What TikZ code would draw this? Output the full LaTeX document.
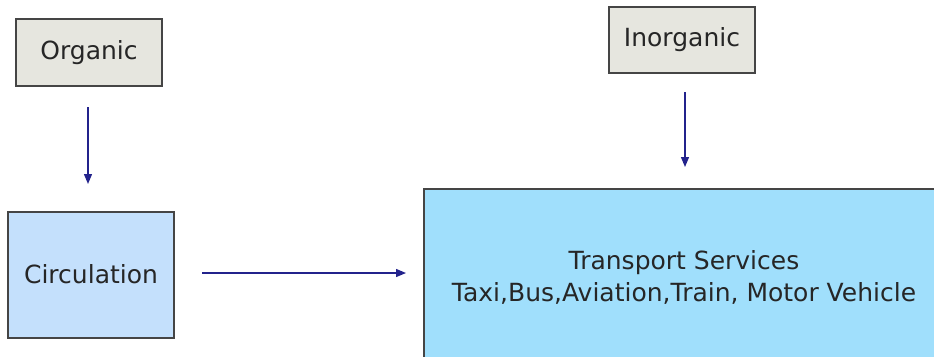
\documentclass[tikz,border=0pt]{standalone}
\usepackage{fontspec}
\setmainfont{DejaVu Sans}
\usetikzlibrary{arrows.meta}
\definecolor{boxgray}{HTML}{E6E6DF}
\definecolor{edgegray}{HTML}{454545}
\definecolor{circblue}{HTML}{C4E0FC}
\definecolor{transblue}{HTML}{A0DFFC}
\definecolor{arrowblue}{HTML}{23238C}
\tikzset{
  srcbox/.style={draw=edgegray, line width=1.6pt, fill=boxgray},
  flowarrow/.style={draw=arrowblue, line width=1.3pt, -{Triangle[length=10pt,width=8pt]}},
  lbl/.style={font=\fontsize{25}{30}\selectfont, text=black!85, align=center}
}
\begin{document}
\begin{tikzpicture}[x=1pt,y=-1pt]
  \useasboundingbox (0,0) rectangle (934,356);
  % boxes
  \draw[srcbox] (16,19) rectangle (162,86);
  \node[lbl] (org) at (89,52.5) {Organic};
  \draw[srcbox] (609,7) rectangle (755,73);
  \node[lbl] (inorg) at (682,40) {Inorganic};
  \draw[draw=edgegray, line width=1.6pt, fill=circblue] (8,212) rectangle (174,338);
  \node[lbl] (circ) at (91,274) {Circulation};
  \draw[draw=edgegray, line width=1.6pt, fill=transblue] (424,189) rectangle (940,362);
  \node[lbl, font=\fontsize{25}{32}\selectfont] (trans) at (684,277) {Transport Services\\Taxi,Bus,Aviation,Train, Motor Vehicle};
  % connectors
  \coordinate (o1) at (88,107);
  \coordinate (o2) at (88,184);
  \coordinate (i1) at (685,92);
  \coordinate (i2) at (685,167);
  \coordinate (c1) at (202,273);
  \coordinate (c2) at (406,273);
  \draw[flowarrow] (o1) -- (o2);
  \draw[flowarrow] (i1) -- (i2);
  \draw[flowarrow] (c1) -- (c2);
\end{tikzpicture}
\end{document}
